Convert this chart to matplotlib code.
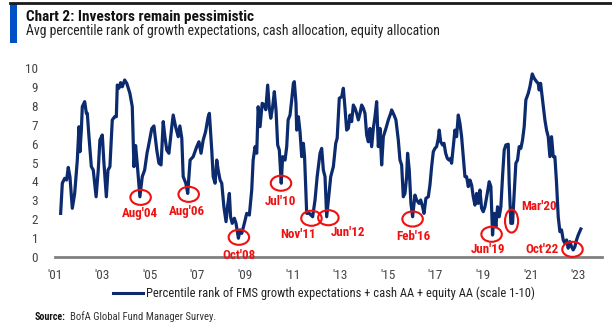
import matplotlib
matplotlib.use('Agg')
import matplotlib.pyplot as plt
from matplotlib import font_manager
from matplotlib.patches import Ellipse, Rectangle
from matplotlib.lines import Line2D

# Avg percentile rank (scale 1-10), decimal years
dates = [
    2001.25, 2001.32, 2001.42, 2001.50, 2001.57, 2001.64, 2001.74, 2001.84, 2001.95,
    2002.02, 2002.06, 2002.12, 2002.16, 2002.26, 2002.33, 2002.37, 2002.44, 2002.54,
    2002.62, 2002.74, 2002.83, 2002.90, 2003.00, 2003.07, 2003.17, 2003.24, 2003.32,
    2003.42, 2003.52, 2003.59, 2003.63, 2003.70, 2003.77, 2003.84, 2003.94, 2004.03,
    2004.16, 2004.26, 2004.33, 2004.40, 2004.47, 2004.58, 2004.68, 2004.78, 2004.88,
    2004.93, 2005.08, 2005.17, 2005.29, 2005.38, 2005.47, 2005.56, 2005.63, 2005.71,
    2005.80, 2005.92, 2005.98, 2006.08, 2006.19, 2006.26, 2006.34, 2006.40, 2006.51,
    2006.59, 2006.69, 2006.82, 2006.97, 2007.06, 2007.15, 2007.24, 2007.34, 2007.45,
    2007.50, 2007.60, 2007.66, 2007.74, 2007.81, 2007.87, 2007.95, 2008.02, 2008.11,
    2008.20, 2008.27, 2008.34, 2008.39, 2008.46, 2008.55, 2008.62, 2008.72, 2008.79,
    2008.86, 2008.97, 2009.07, 2009.18, 2009.28, 2009.34, 2009.42, 2009.49, 2009.55,
    2009.63, 2009.72, 2009.81, 2009.87, 2009.95, 2010.02, 2010.08, 2010.16, 2010.23,
    2010.30, 2010.37, 2010.44, 2010.52, 2010.58, 2010.68, 2010.75, 2010.81, 2010.89,
    2010.96, 2011.03, 2011.07, 2011.14, 2011.17, 2011.24, 2011.31, 2011.38, 2011.45,
    2011.50, 2011.59, 2011.70, 2011.84, 2011.94, 2012.03, 2012.15, 2012.22, 2012.29,
    2012.36, 2012.43, 2012.50, 2012.60, 2012.71, 2012.81, 2012.87, 2012.96, 2013.06,
    2013.13, 2013.20, 2013.27, 2013.34, 2013.41, 2013.48, 2013.55, 2013.62, 2013.69,
    2013.76, 2013.83, 2013.90, 2013.97, 2014.04, 2014.11, 2014.18, 2014.25, 2014.32,
    2014.39, 2014.46, 2014.53, 2014.60, 2014.67, 2014.74, 2014.81, 2014.92, 2015.02,
    2015.12, 2015.16, 2015.26, 2015.34, 2015.44, 2015.51, 2015.58, 2015.65, 2015.72,
    2015.79, 2015.83, 2015.90, 2015.97, 2016.04, 2016.14, 2016.21, 2016.31, 2016.38,
    2016.46, 2016.52, 2016.60, 2016.70, 2016.77, 2016.84, 2016.91, 2016.98, 2017.05,
    2017.12, 2017.16, 2017.22, 2017.30, 2017.36, 2017.43, 2017.50, 2017.57, 2017.64,
    2017.68, 2017.75, 2017.82, 2017.89, 2017.96, 2018.03, 2018.10, 2018.17, 2018.24,
    2018.31, 2018.38, 2018.45, 2018.52, 2018.59, 2018.66, 2018.73, 2018.80, 2018.87,
    2018.94, 2019.01, 2019.08, 2019.18, 2019.26, 2019.33, 2019.40, 2019.47, 2019.54,
    2019.61, 2019.68, 2019.75, 2019.82, 2019.89, 2019.96, 2020.06, 2020.10, 2020.17,
    2020.24, 2020.31, 2020.38, 2020.45, 2020.52, 2020.59, 2020.66, 2020.73, 2020.80,
    2020.90, 2020.97, 2021.07, 2021.15, 2021.25, 2021.32, 2021.36, 2021.42, 2021.50,
    2021.60, 2021.67, 2021.74, 2021.81, 2021.88, 2021.95, 2022.02, 2022.09, 2022.16,
    2022.23, 2022.30, 2022.37, 2022.44, 2022.51, 2022.58, 2022.65, 2022.72, 2022.79,
    2022.86, 2022.93, 2023.00, 2023.11,
]
values = [
    2.30, 3.90, 4.16, 4.07, 4.74, 4.25, 2.57, 3.36, 5.13,
    6.90, 5.57, 6.72, 7.96, 8.23, 7.61, 7.61, 6.37, 4.78,
    4.60, 3.18, 4.60, 6.19, 6.46, 4.96, 3.18, 4.60, 4.78,
    7.26, 7.43, 7.43, 9.11, 8.94, 9.24, 9.02, 9.38, 9.20,
    8.67, 7.96, 4.78, 5.90, 4.90, 3.18, 4.25, 4.60, 5.50,
    5.80, 6.80, 6.94, 5.66, 4.96, 4.87, 7.17, 6.37, 5.66,
    5.49, 6.90, 7.52, 6.90, 6.37, 6.94, 6.30, 4.25, 3.90,
    3.36, 5.13, 5.31, 5.84, 6.10, 5.49, 6.19, 6.63, 7.43,
    7.61, 5.66, 4.25, 3.90, 5.13, 4.60, 4.07, 3.90, 2.65,
    1.86, 2.74, 3.36, 2.12, 1.77, 2.04, 1.77, 0.98, 1.42,
    1.24, 1.77, 2.30, 2.21, 3.54, 5.13, 5.84, 5.49, 7.96,
    6.90, 8.14, 8.05, 7.80, 9.11, 7.88, 7.35, 7.96, 8.76,
    7.80, 5.93, 5.66, 3.90, 5.31, 5.13, 5.84, 7.26, 7.52,
    8.32, 9.20, 9.29, 8.14, 6.72, 7.43, 6.63, 5.31, 6.02,
    5.31, 2.30, 2.30, 2.12, 3.01, 4.25, 5.49, 5.75, 4.60,
    4.25, 2.12, 3.01, 4.25, 4.78, 6.02, 6.28, 8.41, 8.49,
    8.94, 7.88, 6.72, 6.81, 7.52, 7.17, 8.05, 7.88, 7.61,
    7.26, 7.61, 8.05, 7.88, 7.61, 6.46, 6.10, 6.81, 5.84,
    6.81, 7.43, 8.23, 5.84, 6.81, 4.87, 6.37, 6.81, 7.26,
    7.61, 7.79, 7.52, 7.26, 6.19, 5.13, 4.87, 3.18, 3.36,
    4.25, 5.49, 4.60, 2.83, 2.12, 3.27, 3.01, 2.83, 3.01,
    2.65, 2.30, 3.10, 3.18, 3.81, 4.78, 5.57, 5.75, 5.84,
    6.28, 6.72, 6.10, 5.93, 6.02, 5.49, 5.22, 5.13, 5.22,
    4.96, 5.84, 6.72, 6.37, 7.52, 7.08, 6.37, 5.31, 4.25,
    4.25, 3.72, 4.07, 3.81, 3.18, 2.74, 3.36, 2.83, 3.54,
    2.57, 2.39, 2.65, 3.36, 3.98, 3.72, 1.15, 2.30, 1.59,
    2.65, 2.12, 2.65, 4.25, 5.66, 5.93, 5.97, 3.90, 1.77,
    1.77, 3.36, 4.96, 5.13, 5.84, 5.75, 6.19, 6.90, 8.32,
    8.67, 9.02, 9.70, 9.47, 9.29, 9.20, 8.85, 9.20, 8.32,
    7.26, 6.72, 6.37, 5.31, 6.37, 5.31, 5.31, 3.90, 2.12,
    1.33, 1.42, 0.89, 0.71, 0.89, 0.45, 0.80, 0.53, 0.36,
    0.53, 0.89, 1.15, 1.47,
]

# circled lows: label, circle centre (year, value), label position (year, value)
lows = ["Aug'04", "Aug'06", "Oct'08", "Jul'10", "Nov'11",
        "Jun'12", "Feb'16", "Jun'19", "Mar'20", "Oct'22"]
low_x = [2004.61, 2006.63, 2008.74, 2010.51, 2011.79,
         2012.50, 2016.04, 2019.36, 2020.20, 2022.76]
low_y = [3.15, 3.31, 1.03, 3.90, 2.04, 2.07, 2.00, 1.19, 1.89, 0.39]
lab_x = [2004.58, 2006.57, 2008.74, 2010.47, 2011.22,
         2013.31, 2016.07, 2019.22, 2021.36, 2021.49]
lab_y = [2.27, 2.39, 0.05, 2.92, 1.20, 1.27, 1.06, 0.36, 2.65, 0.36]

years = list(range(2001, 2024, 2))
year_labels = ["'%02d" % (y % 100) for y in years]
series_name = 'Percentile rank of FMS growth expectations + cash AA + equity AA (scale 1-10)'

# pick a narrow face if one is installed
entries = font_manager.fontManager.ttflist
names = {f.name for f in entries}
font = 'Liberation Sans'
for cand in ['Liberation Sans Narrow', 'Roboto Condensed', 'Open Sans Condensed',
             'DejaVu Sans Condensed', 'Noto Sans Condensed']:
    if cand in names:
        font = cand
        break
plt.rcParams['font.family'] = [font, 'DejaVu Sans']

navy = '#0B2B6E'
red = '#F01010'

fig = plt.figure(figsize=(6.12, 3.26), dpi=100)
renderer = fig.canvas.get_renderer()


def fit(t, width_px):
    # scale a text so that it spans the width seen in the reference
    bb = t.get_window_extent(renderer)
    t.set_fontsize(t.get_fontsize() * width_px / bb.width)
    return t.get_fontsize()


# header decorations
fig.add_artist(Line2D([10/612, 1], [1 - 3/326, 1 - 3/326], color='#1a1a1a', lw=2))
fig.add_artist(Rectangle((10/612, 1 - 43/326), 6.5/612, 40/326, color='#0050C8', lw=0))
t = fig.text(26.5/612, 1 - 21/326, 'Chart 2: Investors remain pessimistic',
             fontsize=12, fontweight='bold', color='#111111', va='baseline')
fit(t, 228)
t = fig.text(26.5/612, 1 - 35.5/326,
             'Avg percentile rank of growth expectations, cash allocation, equity allocation',
             fontsize=10, color='#222222', va='baseline')
fit(t, 416)

ax = fig.add_axes([54.7/612, 1 - 256.7/326, (602 - 54.7)/612, 10.5*18.84/326])
ax.plot(dates, values, color=navy, lw=2.3, solid_joinstyle='round', label=series_name)

# size of the red labels taken from the width of "Aug'04"
probe = fig.text(0, 0, "Aug'04", fontsize=10, fontweight='bold')
lab_size = fit(probe, 36)
probe.remove()

for name, cx, cy, tx, ty in zip(lows, low_x, low_y, lab_x, lab_y):
    w, h = (0.55, 1.22) if name == "Mar'20" else (0.86, 0.8)
    ax.add_patch(Ellipse((cx, cy), w, h, fill=False, edgecolor=red, lw=1.5,
                         zorder=4, clip_on=False))
    ax.text(tx, ty, name, color=red, fontsize=lab_size, fontweight='bold',
            ha='center', va='center', zorder=5, clip_on=False)

ax.set_xlim(2001, 2024)
ax.set_ylim(0, 10.5)
ax.set_yticks(range(0, 11))
ax.set_xticks(years)
ax.set_xticklabels(year_labels)
ax.tick_params(axis='both', length=0, labelsize=9.5, labelcolor='#444444')
ax.tick_params(axis='y', pad=12)
ax.tick_params(axis='x', pad=9)
for s in ['top', 'right', 'left']:
    ax.spines[s].set_visible(False)
ax.spines['bottom'].set_color('#808080')
ax.spines['bottom'].set_linewidth(2)
ax.spines['bottom'].set_zorder(1)

# legend drawn by hand to sit exactly under the axis
fig.add_artist(Line2D([112.7/612, 143.3/612], [1 - 293.3/326] * 2, color=navy, lw=2.2))
t = fig.text(145.5/612, 1 - 297.3/326, series_name, fontsize=9.5,
             color='#222222', va='baseline')
fit(t, 388)

# source line: bold tag, then the rest right after it
src = fig.text(35/612, 1 - 320/326, 'Source:', fontsize=7.2, fontweight='bold',
               color='#111111', va='baseline')
x_end = src.get_window_extent(renderer).x1
t = fig.text((x_end + 4)/612, 1 - 320/326, 'BofA Global Fund Manager Survey.',
             fontsize=7.5, color='#333333', va='baseline')
fit(t, 215 - x_end - 4)

fig.savefig('out.png', dpi=100)
